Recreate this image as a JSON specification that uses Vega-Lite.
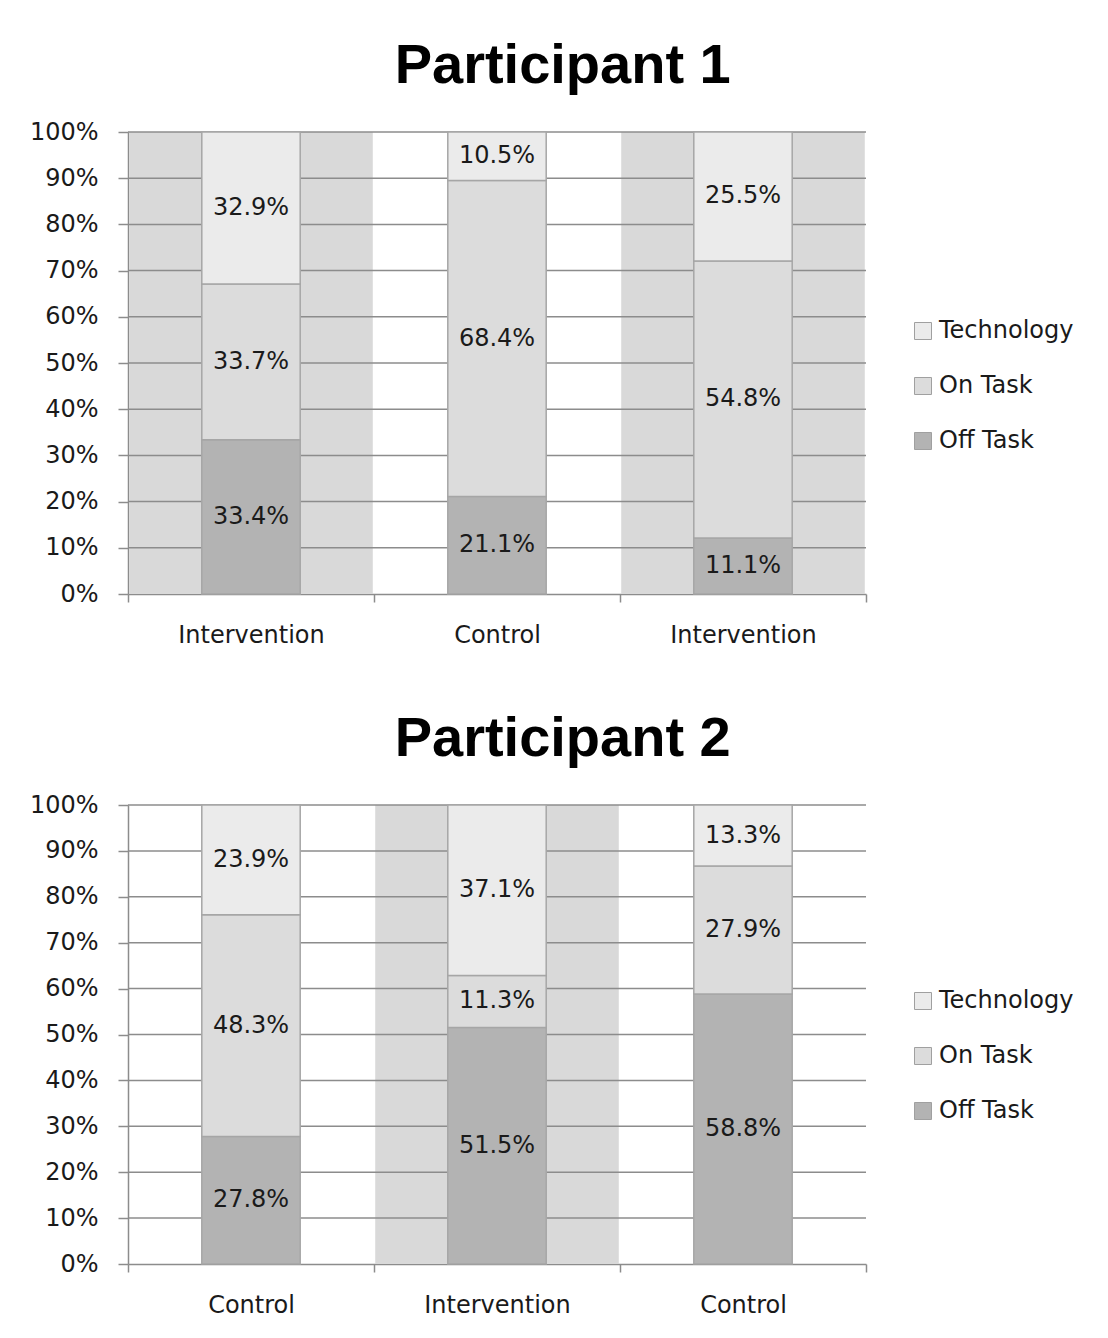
{
  "$schema": "https://vega.github.io/schema/vega-lite/v6.json",
  "padding": {"left": 29, "top": 38, "right": 0, "bottom": 0},
  "spacing": 64,
  "datasets": {
    "p1": [
      {"phase": "Intervention #1", "category": "Off Task", "value": 33.4},
      {"phase": "Intervention #1", "category": "On Task", "value": 33.7},
      {"phase": "Intervention #1", "category": "Technology", "value": 32.9},
      {"phase": "Control #1", "category": "Off Task", "value": 21.1},
      {"phase": "Control #1", "category": "On Task", "value": 68.4},
      {"phase": "Control #1", "category": "Technology", "value": 10.5},
      {"phase": "Intervention #2", "category": "Off Task", "value": 11.1},
      {"phase": "Intervention #2", "category": "On Task", "value": 54.8},
      {"phase": "Intervention #2", "category": "Technology", "value": 25.5}
    ],
    "p1bands": [
      {"phase": "Intervention #1"},
      {"phase": "Intervention #2"}
    ],
    "p2": [
      {"phase": "Control #1", "category": "Off Task", "value": 27.8},
      {"phase": "Control #1", "category": "On Task", "value": 48.3},
      {"phase": "Control #1", "category": "Technology", "value": 23.9},
      {"phase": "Intervention #1", "category": "Off Task", "value": 51.5},
      {"phase": "Intervention #1", "category": "On Task", "value": 11.3},
      {"phase": "Intervention #1", "category": "Technology", "value": 37.1},
      {"phase": "Control #2", "category": "Off Task", "value": 58.8},
      {"phase": "Control #2", "category": "On Task", "value": 27.9},
      {"phase": "Control #2", "category": "Technology", "value": 13.3}
    ],
    "p2bands": [
      {"phase": "Intervention #1"}
    ],
    "grid": [
      {"g": 0.1}, {"g": 0.2}, {"g": 0.3}, {"g": 0.4}, {"g": 0.5},
      {"g": 0.6}, {"g": 0.7}, {"g": 0.8}, {"g": 0.9}, {"g": 1.0}
    ]
  },
  "config": {
    "font": "DejaVu Sans",
    "view": {"stroke": null},
    "axis": {
      "labelFont": "DejaVu Sans",
      "labelFontSize": 24,
      "labelColor": "#1a1a1a",
      "domainColor": "#8c8c8c",
      "tickColor": "#8c8c8c",
      "domainWidth": 1.5,
      "tickWidth": 1.5
    },
    "title": {
      "font": "Liberation Sans",
      "fontWeight": "bold",
      "fontSize": 56,
      "color": "#000000",
      "anchor": "middle",
      "frame": "bounds",
      "offset": 25,
      "dx": 11
    },
    "legend": {
      "title": null,
      "orient": "none",
      "symbolType": "square",
      "symbolSize": 289,
      "symbolStrokeColor": "#a0a0a0",
      "symbolStrokeWidth": 1,
      "symbolOpacity": 1,
      "labelFont": "DejaVu Sans",
      "labelFontSize": 24,
      "labelColor": "#1a1a1a",
      "labelOffset": 4,
      "labelLimit": 300,
      "rowPadding": 31
    }
  },
  "resolve": {"legend": {"color": "independent"}},
  "vconcat": [
    {
      "title": {"text": "Participant 1"},
      "width": 738,
      "height": 462,
      "layer": [
        {
          "data": {"name": "p1bands"},
          "mark": {"type": "bar", "color": "#d9d9d9", "width": {"band": 0.99}},
          "encoding": {
            "x": {"field": "phase", "type": "nominal", "scale": {"domain": ["Intervention #1", "Control #1", "Intervention #2"], "paddingInner": 0, "paddingOuter": 0}, "axis": {"title": null, "labelExpr": "split(datum.label, ' #')[0]", "labelAngle": 0, "tickBand": "extent", "tickSize": 8, "labelPadding": 21}},
            "y": {"datum": 1, "type": "quantitative", "scale": {"domain": [0, 1], "nice": false}, "axis": {"title": null, "format": ".0%", "values": [0, 0.1, 0.2, 0.3, 0.4, 0.5, 0.6, 0.7, 0.8, 0.9, 1], "tickSize": 10, "labelPadding": 20, "grid": false}}
          }
        },
        {
          "data": {"name": "grid"},
          "mark": {"type": "rule", "color": "#8c8c8c", "strokeWidth": 1.5},
          "encoding": {"y": {"field": "g", "type": "quantitative"}}
        },
        {
          "data": {"name": "p1"},
          "transform": [
            {"stack": "value", "groupby": ["phase"], "offset": "normalize", "sort": [{"field": "category", "order": "ascending"}], "as": ["v0", "v1"]},
            {"calculate": "(datum.v0 + datum.v1) / 2", "as": "mid"},
            {"calculate": "format(datum.value, '.1f') + '%'", "as": "label"}
          ],
          "layer": [
            {
              "mark": {"type": "bar", "width": {"band": 0.4}, "stroke": "#a6a6a6", "strokeWidth": 1.5},
              "encoding": {
                "x": {"field": "phase", "type": "nominal"},
                "y": {"field": "v0", "type": "quantitative"},
                "y2": {"field": "v1"},
                "color": {"field": "category", "type": "nominal", "scale": {"domain": ["Technology", "On Task", "Off Task"], "range": ["#ebebeb", "#dcdcdc", "#b3b3b3"]}, "legend": {"legendX": 783, "legendY": 187}}
              }
            },
            {
              "mark": {"type": "text", "fontSize": 24, "font": "DejaVu Sans", "color": "#1a1a1a"},
              "encoding": {
                "x": {"field": "phase", "type": "nominal"},
                "y": {"field": "mid", "type": "quantitative"},
                "text": {"field": "label"}
              }
            }
          ]
        }
      ]
    },
    {
      "title": {"text": "Participant 2"},
      "width": 738,
      "height": 459,
      "layer": [
        {
          "data": {"name": "p2bands"},
          "mark": {"type": "bar", "color": "#d9d9d9", "width": {"band": 0.99}},
          "encoding": {
            "x": {"field": "phase", "type": "nominal", "scale": {"domain": ["Control #1", "Intervention #1", "Control #2"], "paddingInner": 0, "paddingOuter": 0}, "axis": {"title": null, "labelExpr": "split(datum.label, ' #')[0]", "labelAngle": 0, "tickBand": "extent", "tickSize": 8, "labelPadding": 21}},
            "y": {"datum": 1, "type": "quantitative", "scale": {"domain": [0, 1], "nice": false}, "axis": {"title": null, "format": ".0%", "values": [0, 0.1, 0.2, 0.3, 0.4, 0.5, 0.6, 0.7, 0.8, 0.9, 1], "tickSize": 10, "labelPadding": 20, "grid": false}}
          }
        },
        {
          "data": {"name": "grid"},
          "mark": {"type": "rule", "color": "#8c8c8c", "strokeWidth": 1.5},
          "encoding": {"y": {"field": "g", "type": "quantitative"}}
        },
        {
          "data": {"name": "p2"},
          "transform": [
            {"stack": "value", "groupby": ["phase"], "offset": "normalize", "sort": [{"field": "category", "order": "ascending"}], "as": ["v0", "v1"]},
            {"calculate": "(datum.v0 + datum.v1) / 2", "as": "mid"},
            {"calculate": "format(datum.value, '.1f') + '%'", "as": "label"}
          ],
          "layer": [
            {
              "mark": {"type": "bar", "width": {"band": 0.4}, "stroke": "#a6a6a6", "strokeWidth": 1.5},
              "encoding": {
                "x": {"field": "phase", "type": "nominal"},
                "y": {"field": "v0", "type": "quantitative"},
                "y2": {"field": "v1"},
                "color": {"field": "category", "type": "nominal", "scale": {"domain": ["Technology", "On Task", "Off Task"], "range": ["#ebebeb", "#dcdcdc", "#b3b3b3"]}, "legend": {"legendX": 783, "legendY": 184}}
              }
            },
            {
              "mark": {"type": "text", "fontSize": 24, "font": "DejaVu Sans", "color": "#1a1a1a"},
              "encoding": {
                "x": {"field": "phase", "type": "nominal"},
                "y": {"field": "mid", "type": "quantitative"},
                "text": {"field": "label"}
              }
            }
          ]
        }
      ]
    }
  ]
}
